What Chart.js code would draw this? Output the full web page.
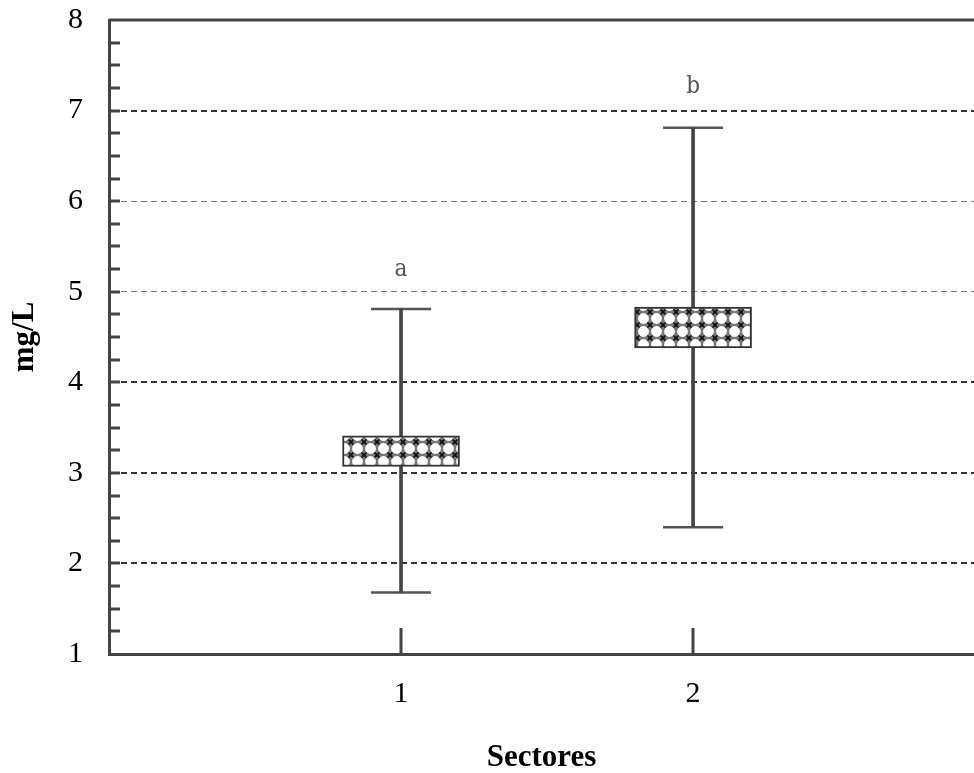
<!DOCTYPE html>
<html>
<head>
<meta charset="utf-8">
<script src="https://cdn.jsdelivr.net/npm/chart.js@4.4.1/dist/chart.umd.min.js"></script>
<style>
  body { margin: 0; background: #fff; overflow: hidden; }
  #wrap { width: 974px; height: 773px; position: relative; }
</style>
</head>
<body>
<div id="wrap"><canvas id="chart"></canvas></div>
<script>
// values
const sectores = [1, 2];
const whiskerMin = [1.68, 2.40];
const whiskerMax = [4.81, 6.81];
const boxLow = [3.07, 4.38];
const boxHigh = [3.41, 4.83];
const letters = ["a", "b"];
const letterY = [5.17, 7.19];
const yMin = 1, yMax = 8;

const ink = "#444";
const serif = "'Liberation Serif', 'Times New Roman', serif";

// crosshatch fill of the boxes: white rings on a grey lattice, dark knots
function hatch() {
    const n = 13;
    const c = document.createElement("canvas");
    c.width = n; c.height = n;
    const g = c.getContext("2d");
    g.fillStyle = "#777";
    g.fillRect(0, 0, n, n);
    g.strokeStyle = "#111";
    g.lineWidth = 1.4;
    g.beginPath();
    g.moveTo(0, 0); g.lineTo(n, n);
    g.moveTo(n, 0); g.lineTo(0, n);
    g.stroke();
    g.fillStyle = "#fff";
    g.beginPath();
    g.arc(n / 2, n / 2, 5.4, 0, Math.PI * 2);
    g.fill();
    g.fillStyle = "#111";
    [[0, 0], [n, 0], [0, n], [n, n]].forEach(([px, py]) => {
        g.fillRect(px - 1.5, py - 1.5, 3, 3);
    });
    return g.createPattern(c, "repeat");
}

const frame = {
    id: "frame",
    afterDatasetsDraw(chart) {
        const { ctx, chartArea: a, scales } = chart;
        const y = scales.y, x = scales.x;
        ctx.save();
        ctx.strokeStyle = ink;
        ctx.lineWidth = 3;
        // top border
        ctx.beginPath();
        ctx.moveTo(a.left, a.top);
        ctx.lineTo(a.right, a.top);
        ctx.stroke();
        // inner ticks on y, every quarter
        ctx.beginPath();
        for (let v = yMin + 0.25; v < yMax; v += 0.25) {
            const py = Math.round(y.getPixelForValue(v));
            ctx.moveTo(a.left, py);
            ctx.lineTo(a.left + 11, py);
        }
        ctx.stroke();
        // inner ticks on x
        ctx.beginPath();
        sectores.forEach(s => {
            const px = Math.round(x.getPixelForValue(s));
            ctx.moveTo(px, a.bottom);
            ctx.lineTo(px, a.bottom - 26);
        });
        ctx.stroke();
        // group letters
        ctx.fillStyle = "#555";
        ctx.font = "24px 'DejaVu Serif Condensed', 'DejaVu Serif', serif";
        ctx.textAlign = "center";
        ctx.textBaseline = "alphabetic";
        letters.forEach((t, i) => {
            ctx.fillText(t, x.getPixelForValue(sectores[i]), y.getPixelForValue(letterY[i]));
        });
        ctx.restore();
    }
};

const majorWidth = { 2: 2, 3: 2, 4: 2, 5: 1, 6: 1, 7: 2 };

new Chart(document.getElementById("chart"), {
    type: "bar",
    data: {
        datasets: [
            {
                label: "caja",
                data: sectores.map((s, i) => ({ x: s, y: [boxLow[i], boxHigh[i]] })),
                backgroundColor: hatch(),
                borderColor: "#333",
                borderWidth: 2,
                borderSkipped: false,
                barThickness: 117,
                grouped: false,
                order: 0
            },
            {
                label: "bigote",
                data: sectores.map((s, i) => ({ x: s, y: [whiskerMin[i], whiskerMax[i]] })),
                backgroundColor: ink,
                borderWidth: 0,
                barThickness: 3,
                grouped: false,
                order: 1
            },
            {
                type: "scatter",
                label: "extremos",
                data: sectores.flatMap((s, i) => [{ x: s, y: whiskerMin[i] }, { x: s, y: whiskerMax[i] }]),
                pointStyle: "line",
                radius: 30,
                borderColor: "#555",
                borderWidth: 2.5,
                order: 2
            }
        ]
    },
    plugins: [frame],
    options: {
        responsive: true,
        maintainAspectRatio: false,
        animation: false,
        layout: { autoPadding: false, padding: { top: 20, right: 0, left: 0, bottom: 0 } },
        plugins: { legend: { display: false }, tooltip: { enabled: false } },
        scales: {
            x: {
                type: "linear",
                offset: false,
                min: 0,
                max: 2.962,
                afterFit: s => {
                    s.height = 119;
                    s.paddingLeft = 0;
                    s.paddingRight = 0;
                },
                grid: { display: false, drawTicks: false },
                border: { color: ink, width: 3 },
                ticks: {
                    stepSize: 1,
                    includeBounds: false,
                    padding: 22,
                    color: "#000",
                    font: { family: serif, size: 30 },
                    callback: v => (v === 1 || v === 2) ? String(v) : ""
                },
                title: {
                    display: true,
                    text: "Sectores",
                    color: "#000",
                    font: { family: serif, size: 31, weight: "bold", lineHeight: 1 },
                    padding: { top: 0, bottom: 0 }
                }
            },
            y: {
                min: yMin,
                max: yMax,
                afterFit: s => {
                    s.width = 109;
                    s.paddingTop = 0;
                    s.paddingBottom = 0;
                },
                grid: {
                    drawTicks: false,
                    color: c => (c.tick.value === yMin || c.tick.value === yMax) ? "rgba(0,0,0,0)" :
                        (majorWidth[c.tick.value] === 1 ? "#777" : "#333"),
                    lineWidth: c => majorWidth[c.tick.value] || 1
                },
                border: { color: ink, width: 3, dash: [6, 4] },
                ticks: {
                    stepSize: 1,
                    padding: 26,
                    color: "#000",
                    font: { family: serif, size: 30 }
                },
                title: {
                    display: true,
                    text: "mg/L",
                    color: "#000",
                    font: { family: serif, size: 31, weight: "bold" },
                    padding: { top: 6, bottom: 0 }
                }
            }
        }
    }
});
</script>
</body>
</html>
